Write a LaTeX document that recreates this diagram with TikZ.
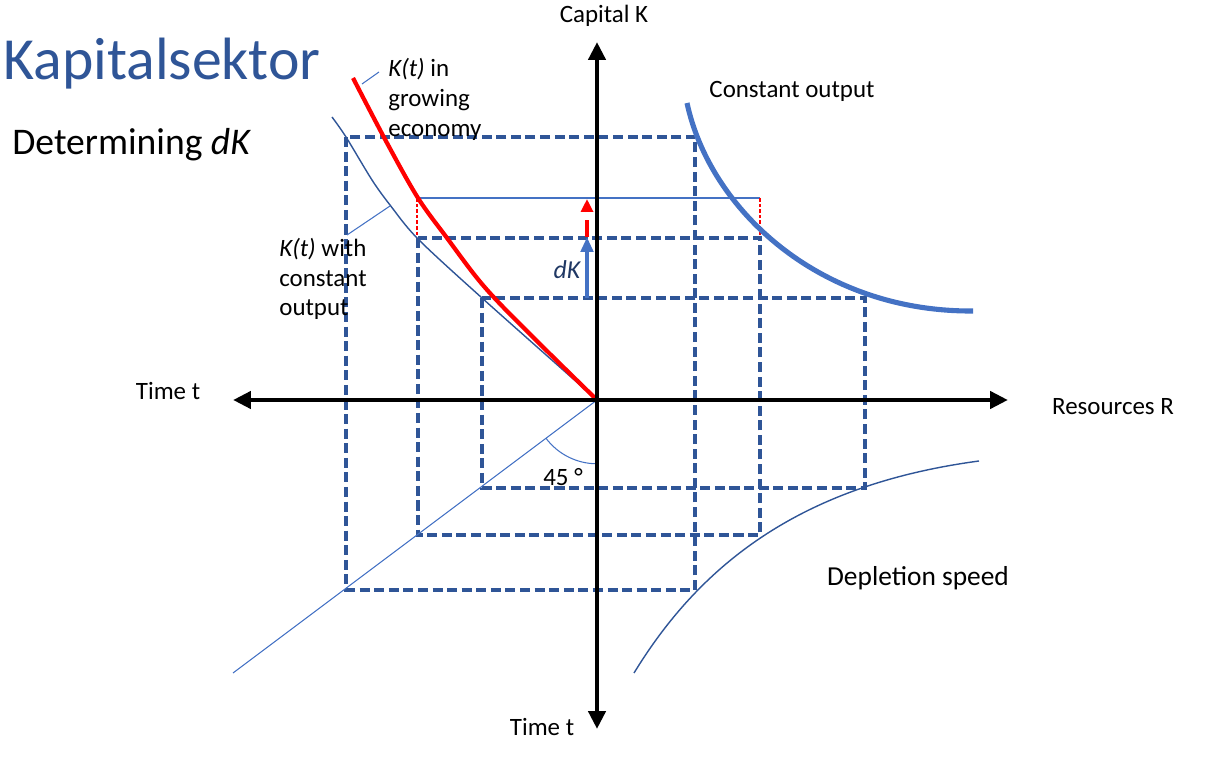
\documentclass[tikz,border=0pt]{standalone}
\usepackage{fontspec}
\setmainfont{Carlito}
\usetikzlibrary{arrows.meta}
\definecolor{navy}{HTML}{2F5597}
\definecolor{accent}{HTML}{4472C4}
\definecolor{dkblue}{HTML}{203864}
\begin{document}
\begin{tikzpicture}[x=0.02cm,y=-0.02cm,
  box/.style={draw=navy, line width=2pt, dash pattern=on 5.7pt off 2.6pt},
  axis/.style={line width=2.8pt, {Triangle[length=10.2pt,width=9.6pt]}-{Triangle[length=10.2pt,width=9.6pt]}},
  thinline/.style={draw=accent, line width=0.6pt},
  navycurve/.style={draw=navy, line width=0.8pt},
  lbl/.style={font=\fontsize{14.2}{17}\selectfont, inner sep=0pt},
  reddash/.style={draw=red, line width=0.6pt, dash pattern=on 2pt off 1.2pt}]
\useasboundingbox (0,0) rectangle (1209,766);
\coordinate (O) at (597,400);
\coordinate (Ktop) at (597,42);
\coordinate (Kbot) at (597,729);
\coordinate (Tleft) at (233,400);
\coordinate (Rright) at (1008,400);
% dashed rectangles
\draw[box] (346,137) rectangle (695,590);
\draw[box] (418,238) rectangle (760,535);
\draw[box] (482,298) rectangle (865,488);
% helper lines
\draw[thinline] (417,198) -- (760,198);
\draw[reddash] (417,198) -- (417,237);
\draw[reddash] (760,198) -- (760,237);
% K(t) constant output
\draw[navycurve] plot[smooth] coordinates {(332,117) (346,137) (372,180) (390,205) (418,239) (482,298) (597,400)};
% K(t) growing economy
\draw[red, line width=2.4pt] plot[smooth, tension=0.55] coordinates {(353,78) (387,143) (418,198) (447,238) (477,278) (503,307) (550,354) (597,400)};
% constant output curve
\coordinate (co0) at (687,103);
\coordinate (co1) at (973,311);
\draw[accent, line width=2.9pt] (co0) .. controls (710,210) and (820,312) .. (co1);
% depletion speed
\coordinate (dp0) at (634,673);
\coordinate (dp1) at (979,461);
\draw[navycurve] (dp0) .. controls (700,565) and (800,485) .. (dp1);
% 45 degree line and arc
\coordinate (d45) at (233,673);
\draw[thinline] (O) -- (d45);
\draw[thinline] (O) ++(216.7:36.3pt) arc[start angle=216.7, end angle=270, radius=36.3pt];
% leaders
\draw[thinline] (362,84) -- (379,72);
\draw[thinline] (347,235) -- (390,206);
% dK arrows
\draw[accent, line width=2.3pt, -{Triangle[length=8.5pt,width=7pt]}] (587,298) -- (587,237);
\draw[red, line width=2.3pt, dash pattern=on 9.6pt off 4.5pt, -{Triangle[length=7.4pt,width=6.8pt]}] (587,237) -- (587,199);
% axes
\draw[axis] (Tleft) -- (Rright);
\draw[axis] (Kbot) -- (Ktop);
% texts
\node[anchor=base west, inner sep=0pt, text=navy, font=\fontsize{34}{40}\selectfont] (title) at (3,80) {Kapitalsektor};
\node[anchor=base west, inner sep=0pt, font=\fontsize{21.4}{26}\selectfont] (sub) at (12,155) {Determining \textit{dK}};
\node[lbl, anchor=base west] (g1) at (388,77) {\textit{K(t)} in};
\node[lbl, anchor=base west] (g2) at (388,107) {growing};
\node[lbl, anchor=base west] (g3) at (388,137) {economy};
\node[lbl, anchor=base west] (c1) at (279,257) {\textit{K(t)} with};
\node[lbl, anchor=base west] (c2) at (279,287) {constant};
\node[lbl, anchor=base west] (c3) at (279,316) {output};
\node[lbl] (capK) at (604,16) {Capital K};
\node[lbl] (tl) at (168,391) {Time t};
\node[lbl] (rr) at (1113,407) {Resources R};
\node[lbl] (tb) at (542,727) {Time t};
\node[lbl] (co) at (792,91) {Constant output};
\node[lbl, font=\fontsize{15.6}{19}\selectfont] (dep) at (918,578) {Depletion speed};
\node[lbl] (ang) at (563,477) {45 °};
\node[lbl, text=dkblue, font=\fontsize{14.7}{18}\selectfont\itshape] (dk) at (567,270) {dK};
\end{tikzpicture}
\end{document}
